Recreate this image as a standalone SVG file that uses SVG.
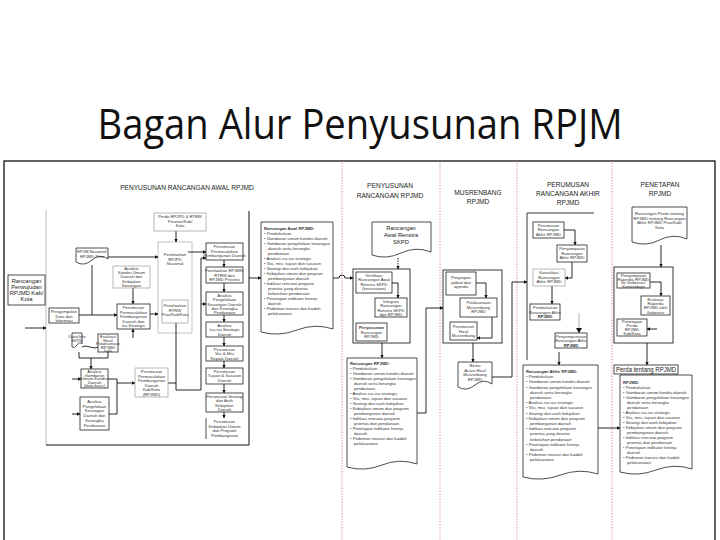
<svg xmlns="http://www.w3.org/2000/svg" width="720" height="540" viewBox="0 0 720 540">
<defs>
<marker id="ar" viewBox="0 0 6 6" refX="5.5" refY="3" markerWidth="4" markerHeight="4" orient="auto"><path d="M0,0 L6,3 L0,6 Z" fill="#111"/></marker>
<style>
.b{fill:#fff;stroke:#222;stroke-width:0.8}
.g{fill:#fff;stroke:#999;stroke-width:0.7}
.d{fill:#fff;stroke:#222;stroke-width:0.8}
.c{fill:none;stroke:#111;stroke-width:0.9}
.ca{fill:none;stroke:#111;stroke-width:0.9;marker-end:url(#ar)}
.cg{fill:none;stroke:#999;stroke-width:0.8}
.sep{stroke:#c66;stroke-width:0.8;stroke-dasharray:1.2 1.6}
.t{font-family:"Liberation Sans",Arial,sans-serif;font-size:4.2px;fill:#333;text-anchor:middle}
.l{font-family:"Liberation Sans",Arial,sans-serif;font-size:4.2px;fill:#333}
.h{font-family:"Liberation Sans",Arial,sans-serif;font-size:6.6px;fill:#222;text-anchor:middle}
.m{font-family:"Liberation Sans",Arial,sans-serif;font-size:5.8px;fill:#222;text-anchor:middle}
</style>
</defs>
<rect width="720" height="540" fill="#fff"/>
<text x="360" y="139" font-family="'Open Sans','Noto Sans',sans-serif" font-size="42" fill="#111" text-anchor="middle" textLength="525" lengthAdjust="spacingAndGlyphs">Bagan Alur Penyusunan RPJM</text>

<g id="frame">
<rect x="4" y="161" width="711" height="400" fill="none" stroke="#111" stroke-width="1.3"/>
<line class="sep" x1="342" y1="163" x2="342" y2="540"/>
<line class="sep" x1="440" y1="163" x2="440" y2="540"/>
<line class="sep" x1="517" y1="163" x2="517" y2="540"/>
<line class="sep" x1="612" y1="163" x2="612" y2="540"/>
<path d="M46,210 V445" stroke="#aaa" stroke-width="0.8" fill="none"/>
<path d="M46,445 H249 V211" stroke="#111" stroke-width="1" fill="none"/>
<rect x="158" y="242" width="34" height="91" fill="none" stroke="#aaa" stroke-width="0.7"/>
<rect x="353" y="269" width="57" height="74" fill="none" stroke="#222" stroke-width="0.9"/>
<rect x="443" y="270" width="59" height="73" fill="none" stroke="#222" stroke-width="0.9"/>
<path d="M594,213 H527 V360" stroke="#222" stroke-width="0.9" fill="none"/>
<rect x="614" y="267" width="59" height="76" fill="none" stroke="#222" stroke-width="0.9"/>
</g>

<g id="headers">
<text class="h" x="187" y="190">PENYUSUNAN RANCANGAN AWAL RPJMD</text>
<text class="h" x="390" y="188">PENYUSUNAN</text>
<text class="h" x="390" y="198">RANCANGAN RPJMD</text>
<text class="h" x="478" y="195">MUSRENBANG</text>
<text class="h" x="478" y="204">RPJMD</text>
<text class="h" x="568" y="187">PERUMUSAN</text>
<text class="h" x="568" y="196">RANCANGAN AKHIR</text>
<text class="h" x="568" y="205">RPJMD</text>
<text class="h" x="660" y="187">PENETAPAN</text>
<text class="h" x="660" y="196">RPJMD</text>
</g>

<g id="connectors">
<path class="ca" d="M25,328 H46"/>
<path class="ca" d="M176,231 V242"/>
<path class="ca" d="M108,257 H158"/>
<path class="c" d="M92,265 V315"/>
<path class="ca" d="M79,315 H117"/>
<path class="ca" d="M133,288 V304"/>
<path class="ca" d="M133,338 V329"/>
<path class="ca" d="M150,314 H158"/>
<path class="c" d="M82,347 C88,344 92,350 98,347"/>
<path class="c" d="M79,352 V358 H108 V352"/>
<path class="ca" d="M91,358 V369"/>
<path class="ca" d="M72,379 H81"/>
<path class="ca" d="M72,414 H80"/>
<path class="c" d="M108,379 H117 V414 H109"/>
<path class="ca" d="M117,383 H135"/>
<path class="c" d="M168,383 H176"/>
<path class="ca" d="M176,323 V390 H201 V258 H206"/>
<path class="ca" d="M201,304 H206"/>
<path class="ca" d="M188,252 H206" stroke="#888"/>
<path class="ca" d="M224,260 V267"/>
<path class="ca" d="M224,283 V292"/>
<path class="ca" d="M224,315 V322"/>
<path class="ca" d="M224,337 V346"/>
<path class="ca" d="M224,361 V368"/>
<path class="ca" d="M224,384 V393"/>
<path class="ca" d="M224,412 V418"/>
<path class="ca" d="M249,278 H261"/>
<path class="ca" d="M333,278 H339 a3,3 0 0 1 6,0 H353"/>
<path class="ca" d="M398,258 V269" stroke-dasharray="1.5 1"/>
<path class="ca" d="M392,283 H398 V298"/>
<path class="ca" d="M382,343 V358"/>
<path class="ca" d="M417,413 H426 V308 H443"/>
<path class="ca" d="M476,283 H486 V298"/>
<path class="ca" d="M492,317 V338 H477"/>
<path class="ca" d="M473,343 V362"/>
<path class="ca" d="M492,377 H512 V282 H527"/>
<path class="ca" d="M564,230 H575 V245"/>
<path class="ca" d="M572,262 V278 H565"/>
<path class="ca" d="M552,286 V304"/>
<path class="cg" d="M579,313 V333"/>
<path d="M576,328 L579,333 L582,328 Z" fill="#111"/>
<path class="ca" d="M559,352 V365"/>
<path class="ca" d="M595,428 H620"/>
<path class="ca" d="M661,245 V267"/>
<path class="ca" d="M650,282 H661 V296"/>
<path class="ca" d="M657,329 H647"/>
<path class="ca" d="M647,343 V365"/>
</g>

<g id="n-rancangan-perwujudan">
<rect class="b" x="8" y="275" width="37" height="30"/>
<text class="m" x="26.5" y="283"><tspan x="26.5">Rancangan</tspan><tspan x="26.5" dy="6">Perwujudan</tspan><tspan x="26.5" dy="6">RPJMD Kab/</tspan><tspan x="26.5" dy="6">Kota</tspan></text>
</g>
<g id="n-perda-rpjpd">
<rect class="g" x="154" y="213" width="52" height="18"/>
<text class="t" x="180" y="218"><tspan x="180">Perda RPJPD &amp; RTRW</tspan><tspan x="180" dy="4.6">Provinsi/Kab/</tspan><tspan x="180" dy="4.6">Kota</tspan></text>
</g>
<g id="n-rpjm-nasional">
<path class="d" d="M76,248 H108 V259 Q100,253 92,260 T76,262 Z"/>
<text class="t" x="92" y="253"><tspan x="92">RPJM Nasional/</tspan><tspan x="92" dy="4.6">RPJMD Prov</tspan></text>
</g>
<g id="n-analisis-kondisi">
<rect class="g" x="113" y="266" width="37" height="22"/>
<text class="t" x="131.5" y="270"><tspan x="131.5">Analisis</tspan><tspan x="131.5" dy="4.2">Kondisi Umum</tspan><tspan x="131.5" dy="4.2">Daerah dan</tspan><tspan x="131.5" dy="4.2">Kebijakan</tspan><tspan x="131.5" dy="4.2">Keuangan</tspan></text>
</g>
<g id="n-perumusan-permasalahan">
<rect class="b" x="117" y="304" width="33" height="25"/>
<text class="t" x="133.5" y="309"><tspan x="133.5">Perumusan</tspan><tspan x="133.5" dy="4.5">Permasalahan</tspan><tspan x="133.5" dy="4.5">Pembangunan</tspan><tspan x="133.5" dy="4.5">Daerah dan</tspan><tspan x="133.5" dy="4.5">Isu Strategis</tspan></text>
</g>
<g id="n-pengumpulan">
<rect class="b" x="49" y="308" width="30" height="15"/>
<text class="t" x="64" y="313"><tspan x="64">Pengumpulan</tspan><tspan x="64" dy="4.5">Data dan</tspan><tspan x="64" dy="4.5">Informasi</tspan></text>
</g>
<g id="n-data-skpd">
<path class="d" d="M72,333 H82 V344 Q79.5,341 77,345 T72,347 Z"/>
<text class="t" x="77" y="338" font-size="2.6px"><tspan x="77">Data/Info</tspan><tspan x="77" dy="4">SKPD</tspan></text>
</g>
<g id="n-evaluasi">
<rect class="b" x="98" y="334" width="20" height="18"/>
<text class="t" x="108" y="338" font-size="3.4px"><tspan x="108">Evaluasi</tspan><tspan x="108" dy="3.5">Hasil</tspan><tspan x="108" dy="3.5">Pelaksanaan</tspan><tspan x="108" dy="3.5">RPJMD</tspan><tspan x="108" dy="3.5">Lalu</tspan></text>
</g>
<g id="n-gambaran-umum">
<rect class="b" x="81" y="369" width="27" height="19"/>
<text class="t" x="94.5" y="373" font-size="3.6px"><tspan x="94.5">Analisis</tspan><tspan x="94.5" dy="3.6">Gambaran</tspan><tspan x="94.5" dy="3.6">Umum Kondisi</tspan><tspan x="94.5" dy="3.6">Daerah</tspan><tspan x="94.5" dy="3.6">(data base)</tspan></text>
</g>
<g id="n-keuangan">
<rect class="b" x="80" y="397" width="29" height="33"/>
<text class="t" x="94.5" y="403"><tspan x="94.5">Analisis</tspan><tspan x="94.5" dy="4.7">Pengelolaan</tspan><tspan x="94.5" dy="4.7">Keuangan</tspan><tspan x="94.5" dy="4.7">Daerah dan</tspan><tspan x="94.5" dy="4.7">Kerangka</tspan><tspan x="94.5" dy="4.7">Pendanaan</tspan></text>
</g>
<g id="n-perumusan-daerah">
<rect class="g" x="135" y="368" width="33" height="29"/>
<text class="t" x="151.5" y="373"><tspan x="151.5">Perumusan</tspan><tspan x="151.5" dy="4.6">Permasalahan</tspan><tspan x="151.5" dy="4.6">Pembangunan</tspan><tspan x="151.5" dy="4.6">Daerah</tspan><tspan x="151.5" dy="4.6">Kab/Kota</tspan><tspan x="151.5" dy="4.6">(RPJMD)</tspan></text>
</g>
<g id="n-penelaahan-rpjpd">
<text class="t" x="175" y="256"><tspan x="175">Penelaahan</tspan><tspan x="175" dy="4.6">RPJPD</tspan><tspan x="175" dy="4.6">Nasional</tspan></text>
</g>
<g id="n-penelaahan-rtrw">
<rect class="g" x="162" y="300" width="26" height="23"/>
<text class="t" x="175" y="307"><tspan x="175">Penelaahan</tspan><tspan x="175" dy="4.6">RTRW</tspan><tspan x="175" dy="4.6">Prov/Kab/Kota</tspan></text>
</g>

<g id="n-c1"><rect class="b" x="206" y="243" width="37" height="17"/>
<text class="t" x="224.5" y="248"><tspan x="224.5">Perumusan</tspan><tspan x="224.5" dy="4.6">Permasalahan</tspan><tspan x="224.5" dy="4.6">Pembangunan Daerah</tspan></text></g>
<g id="n-c2"><rect class="b" x="206" y="267" width="37" height="16"/>
<text class="t" x="224.5" y="272"><tspan x="224.5">Penelaahan RPJMN,</tspan><tspan x="224.5" dy="4.5">RTRW dan</tspan><tspan x="224.5" dy="4.5">RPJMD Provinsi</tspan></text></g>
<g id="n-c3"><rect class="b" x="206" y="292" width="37" height="23"/>
<text class="t" x="224.5" y="297"><tspan x="224.5">Analisis</tspan><tspan x="224.5" dy="4.3">Pengelolaan</tspan><tspan x="224.5" dy="4.3">Keuangan Daerah</tspan><tspan x="224.5" dy="4.3">dan Kerangka</tspan><tspan x="224.5" dy="4.3">Pendanaan</tspan></text></g>
<g id="n-c4"><rect class="b" x="206" y="322" width="37" height="15"/>
<text class="t" x="224.5" y="327"><tspan x="224.5">Analisis</tspan><tspan x="224.5" dy="4.3">Isu-isu Strategis</tspan><tspan x="224.5" dy="4.3">Daerah</tspan></text></g>
<g id="n-c5"><rect class="b" x="206" y="346" width="37" height="15"/>
<text class="t" x="224.5" y="351"><tspan x="224.5">Perumusan</tspan><tspan x="224.5" dy="4.3">Visi &amp; Misi</tspan><tspan x="224.5" dy="4.3">Kepala Daerah</tspan></text></g>
<g id="n-c6"><rect class="b" x="206" y="368" width="37" height="16"/>
<text class="t" x="224.5" y="373"><tspan x="224.5">Perumusan</tspan><tspan x="224.5" dy="4.4">Tujuan &amp; Sasaran</tspan><tspan x="224.5" dy="4.4">Daerah</tspan></text></g>
<g id="n-c7"><rect class="b" x="206" y="393" width="37" height="19"/>
<text class="t" x="224.5" y="398"><tspan x="224.5">Perumusan Strategi</tspan><tspan x="224.5" dy="4.3">dan Arah</tspan><tspan x="224.5" dy="4.3">Kebijakan</tspan><tspan x="224.5" dy="4.3">Daerah</tspan></text></g>
<g id="n-c8"><path d="M206,418 V439" stroke="#222" stroke-width="0.8"/>
<text class="t" x="224.5" y="423"><tspan x="224.5">Perumusan</tspan><tspan x="224.5" dy="4.6">Kebijakan Umum</tspan><tspan x="224.5" dy="4.6">dan Program</tspan><tspan x="224.5" dy="4.6">Pembangunan</tspan></text></g>

<g id="n-rancangan-awal-rpjmd">
<path class="d" d="M261,222 H333 V329 Q315,323 297,330 T261,332 Z"/>
<text class="l" x="264" y="230"><tspan x="264" font-weight="bold">Rancangan Awal RPJMD:</tspan><tspan x="264" dy="5">• Pendahuluan</tspan><tspan x="264" dy="5">• Gambaran umum kondisi daerah</tspan><tspan x="264" dy="5">• Gambaran pengelolaan keuangan</tspan><tspan x="268" dy="5">daerah serta kerangka</tspan><tspan x="268" dy="5">pendanaan</tspan><tspan x="264" dy="5">• Analisis isu-isu strategis</tspan><tspan x="264" dy="5">• Visi, misi, tujuan dan sasaran</tspan><tspan x="264" dy="5">• Strategi dan arah kebijakan</tspan><tspan x="264" dy="5">• Kebijakan umum dan program</tspan><tspan x="268" dy="5">pembangunan daerah</tspan><tspan x="264" dy="5">• Indikasi rencana program</tspan><tspan x="268" dy="5">prioritas yang disertai</tspan><tspan x="268" dy="5">kebutuhan pendanaan</tspan><tspan x="264" dy="5">• Penetapan indikator kinerja</tspan><tspan x="268" dy="5">daerah</tspan><tspan x="264" dy="5">• Pedoman transisi dan kaidah</tspan><tspan x="268" dy="5">pelaksanaan</tspan></text>
</g>

<g id="n-renstra">
<path class="d" d="M372,222 H431 V252 Q416,246 401,253 T372,255 Z"/>
<text class="m" x="401" y="230"><tspan x="401">Rancangan</tspan><tspan x="401" dy="7">Awal Renstra</tspan><tspan x="401" dy="7">SKPD</tspan></text>
</g>
<g id="n-verifikasi"><rect class="b" x="356" y="272" width="36" height="21"/>
<text class="t" x="374" y="277"><tspan x="374">Verifikasi</tspan><tspan x="374" dy="4.4">Rancangan Awal</tspan><tspan x="374" dy="4.4">Renstra SKPD</tspan><tspan x="374" dy="4.4">(kesesuaian)</tspan></text></g>
<g id="n-integrasi"><rect class="b" x="375" y="298" width="32" height="19"/>
<text class="t" x="391" y="303"><tspan x="391">Integrasi</tspan><tspan x="391" dy="4.4">Rancangan</tspan><tspan x="391" dy="4.4">Renstra SKPD</tspan><tspan x="391" dy="4.4">dgn RPJMD</tspan></text></g>
<g id="n-penyusunan-rpjmd"><rect class="b" x="356" y="323" width="31" height="18"/>
<text class="t" x="371.5" y="329"><tspan x="371.5" font-weight="bold">Penyusunan</tspan><tspan x="371.5" dy="4.6">Rancangan</tspan><tspan x="371.5" dy="4.6">RPJMD</tspan></text></g>

<g id="n-rancangan-rpjmd">
<path class="d" d="M347,358 H417 V464 Q399.5,458 382,465 T347,467 Z"/>
<text class="l" x="350" y="365"><tspan x="350" font-weight="bold">Rancangan RPJMD:</tspan><tspan x="350" dy="5">• Pendahuluan</tspan><tspan x="350" dy="5">• Gambaran umum kondisi daerah</tspan><tspan x="350" dy="5">• Gambaran pengelolaan keuangan</tspan><tspan x="354" dy="5">daerah serta kerangka</tspan><tspan x="354" dy="5">pendanaan</tspan><tspan x="350" dy="5">• Analisis isu-isu strategis</tspan><tspan x="350" dy="5">• Visi, misi, tujuan dan sasaran</tspan><tspan x="350" dy="5">• Strategi dan arah kebijakan</tspan><tspan x="350" dy="5">• Kebijakan umum dan program</tspan><tspan x="354" dy="5">pembangunan daerah</tspan><tspan x="350" dy="5">• Indikasi rencana program</tspan><tspan x="354" dy="5">prioritas dan pendanaan</tspan><tspan x="350" dy="5">• Penetapan indikator kinerja</tspan><tspan x="354" dy="5">daerah</tspan><tspan x="350" dy="5">• Pedoman transisi dan kaidah</tspan><tspan x="354" dy="5">pelaksanaan</tspan></text>
</g>

<g id="n-jadwal"><rect class="b" x="446" y="272" width="30" height="23"/>
<text class="t" x="461" y="279"><tspan x="461">Penyiapan</tspan><tspan x="461" dy="4.6">jadwal dan</tspan><tspan x="461" dy="4.6">agenda</tspan></text></g>
<g id="n-pelaksanaan-musrenbang"><rect class="b" x="460" y="298" width="37" height="19"/>
<text class="t" x="478.5" y="304"><tspan x="478.5">Pelaksanaan</tspan><tspan x="478.5" dy="4.6">Musrenbang</tspan><tspan x="478.5" dy="4.6">RPJMD</tspan></text></g>
<g id="n-perumusan-hasil"><rect class="b" x="450" y="322" width="27" height="18"/>
<text class="t" x="463.5" y="328"><tspan x="463.5">Perumusan</tspan><tspan x="463.5" dy="4.6">Hasil</tspan><tspan x="463.5" dy="4.6">Musrenbang</tspan></text></g>
<g id="n-berita-acara">
<path class="d" d="M458,362 H492 V384 Q483.5,378 475,385 T458,387 Z"/>
<text class="t" x="475" y="367"><tspan x="475">Berita</tspan><tspan x="475" dy="4.5">Acara Hasil</tspan><tspan x="475" dy="4.5">Musrenbang</tspan><tspan x="475" dy="4.5">RPJMD</tspan></text>
</g>

<g id="n-p1"><rect class="b" x="533" y="222" width="31" height="16"/>
<text class="t" x="548.5" y="227"><tspan x="548.5">Perumusan</tspan><tspan x="548.5" dy="4.4">Rancangan</tspan><tspan x="548.5" dy="4.4">Akhir RPJMD</tspan></text></g>
<g id="n-p2"><rect class="b" x="557" y="245" width="30" height="17"/>
<text class="t" x="572" y="250"><tspan x="572">Penyampaian</tspan><tspan x="572" dy="4.6">Rancangan</tspan><tspan x="572" dy="4.6">Akhir RPJMD</tspan></text></g>
<g id="n-p3"><rect class="g" x="533" y="269" width="32" height="17"/>
<text class="t" x="549" y="274"><tspan x="549">Konsultasi</tspan><tspan x="549" dy="4.6">Rancangan</tspan><tspan x="549" dy="4.6">Akhir RPJMD</tspan></text></g>
<g id="n-p4"><rect class="b" x="530" y="304" width="30" height="16"/>
<text class="t" x="545" y="309"><tspan x="545">Pembahasan</tspan><tspan x="545" dy="4.5">Rancangan Akhir</tspan><tspan x="545" dy="4.5" font-weight="bold">RPJMD</tspan></text></g>
<g id="n-p5"><rect class="b" x="555" y="333" width="32" height="15"/>
<text class="t" x="571" y="338"><tspan x="571">Penyempurnaan</tspan><tspan x="571" dy="4.3">Rancangan Akhir</tspan><tspan x="571" dy="4.3" font-weight="bold">RPJMD</tspan></text></g>

<g id="n-rancangan-akhir">
<path class="d" d="M523,365 H598 V474 Q579,468 560.5,475 T523,477 Z"/>
<text class="l" x="526" y="373"><tspan x="526" font-weight="bold">Rancangan Akhir RPJMD:</tspan><tspan x="526" dy="5.2">• Pendahuluan</tspan><tspan x="526" dy="5.2">• Gambaran umum kondisi daerah</tspan><tspan x="526" dy="5.2">• Gambaran pengelolaan keuangan</tspan><tspan x="530" dy="5.2">daerah serta kerangka</tspan><tspan x="530" dy="5.2">pendanaan</tspan><tspan x="526" dy="5.2">• Analisis isu-isu strategis</tspan><tspan x="526" dy="5.2">• Visi, misi, tujuan dan sasaran</tspan><tspan x="526" dy="5.2">• Strategi dan arah kebijakan</tspan><tspan x="526" dy="5.2">• Kebijakan umum dan program</tspan><tspan x="530" dy="5.2">pembangunan daerah</tspan><tspan x="526" dy="5.2">• Indikasi rencana program</tspan><tspan x="530" dy="5.2">prioritas yang disertai</tspan><tspan x="530" dy="5.2">kebutuhan pendanaan</tspan><tspan x="526" dy="5.2">• Penetapan indikator kinerja</tspan><tspan x="530" dy="5.2">daerah</tspan><tspan x="526" dy="5.2">• Pedoman transisi dan kaidah</tspan><tspan x="530" dy="5.2">pelaksanaan</tspan></text>
</g>

<g id="n-raperda">
<path class="d" d="M632,207 H687 V239 Q673,233 659.5,240 T632,242 Z"/>
<text class="t" x="659.5" y="215"><tspan x="659.5">Rancangan Perda tentang</tspan><tspan x="659.5" dy="4.6">RPJMD tentang Rancangan</tspan><tspan x="659.5" dy="4.6">Akhir RPJMD Prov/Kab/</tspan><tspan x="659.5" dy="4.6">Kota</tspan></text>
</g>
<g id="n-q1"><rect class="b" x="617" y="273" width="33" height="15"/>
<text class="t" x="633.5" y="277" font-size="3.6px"><tspan x="633.5">Penyampaian</tspan><tspan x="633.5" dy="3.6">Raperda RPJMD</tspan><tspan x="633.5" dy="3.6">ke Gubernur/</tspan><tspan x="633.5" dy="3.6">Kemendagri</tspan></text></g>
<g id="n-q2"><rect class="b" x="641" y="296" width="29" height="19"/>
<text class="t" x="655.5" y="301"><tspan x="655.5">Evaluasi</tspan><tspan x="655.5" dy="4.2">Raperda</tspan><tspan x="655.5" dy="4.2">RPJMD oleh</tspan><tspan x="655.5" dy="4.2">Gubernur</tspan></text></g>
<g id="n-q3"><rect class="b" x="617" y="319" width="30" height="17"/>
<text class="t" x="632" y="323" font-size="3.8px"><tspan x="632">Penetapan</tspan><tspan x="632" dy="3.9">Perda</tspan><tspan x="632" dy="3.9">RPJMD</tspan><tspan x="632" dy="3.9">Kab/Kota</tspan></text></g>

<g id="n-perda">
<rect class="b" x="614" y="365" width="64" height="9"/>
<text x="646" y="372" font-family="'Liberation Sans',Arial,sans-serif" font-size="7" fill="#222" text-anchor="middle" textLength="60" lengthAdjust="spacingAndGlyphs">Perda tentang RPJMD</text>
<path class="d" d="M620,375 H692 V469 Q674,463 656,470 T620,472 Z"/>
<text class="l" x="623" y="384"><tspan x="623" font-weight="bold">RPJMD:</tspan><tspan x="623" dy="5">• Pendahuluan</tspan><tspan x="623" dy="5">• Gambaran umum kondisi daerah</tspan><tspan x="623" dy="5">• Gambaran pengelolaan keuangan</tspan><tspan x="627" dy="5">daerah serta kerangka</tspan><tspan x="627" dy="5">pendanaan</tspan><tspan x="623" dy="5">• Analisis isu-isu strategis</tspan><tspan x="623" dy="5">• Visi, misi, tujuan dan sasaran</tspan><tspan x="623" dy="5">• Strategi dan arah kebijakan</tspan><tspan x="623" dy="5">• Kebijakan umum dan program</tspan><tspan x="627" dy="5">pembangunan daerah</tspan><tspan x="623" dy="5">• Indikasi rencana program</tspan><tspan x="627" dy="5">prioritas dan pendanaan</tspan><tspan x="623" dy="5">• Penetapan indikator kinerja</tspan><tspan x="627" dy="5">daerah</tspan><tspan x="623" dy="5">• Pedoman transisi dan kaidah</tspan><tspan x="627" dy="5">pelaksanaan</tspan></text>
</g>
</svg>
